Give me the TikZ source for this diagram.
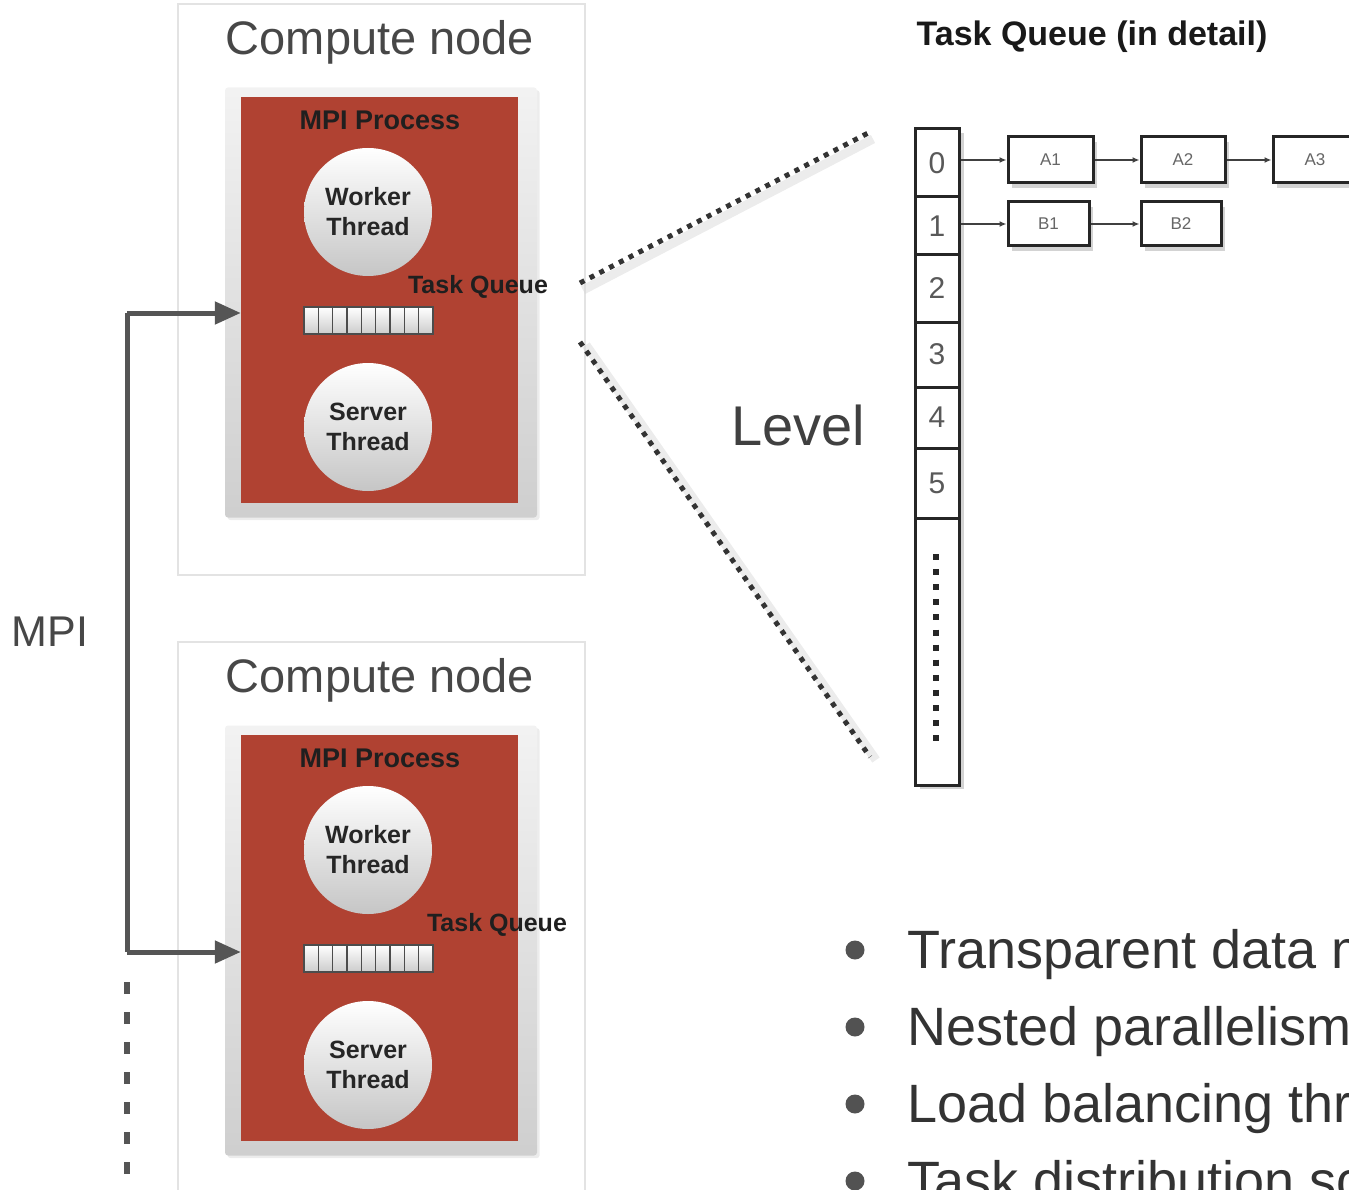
\documentclass[tikz,border=0pt]{standalone}
\usepackage{fontspec}
\setmainfont{Liberation Sans}
\usetikzlibrary{arrows.meta,shadows}

\definecolor{procred}{RGB}{176,66,50}
\definecolor{busgray}{RGB}{85,85,85}
\newcommand{\pxfont}[2]{\fontsize{#1}{#2}\selectfont}

\begin{document}
\begin{tikzpicture}[x=1pt, y=-1pt, >={Triangle[length=26pt,width=22pt]},
  cnode/.style={draw=gray!22, line width=1.5pt, minimum width=407pt, minimum height=571pt, inner sep=0pt},
  cnlabel/.style={text=black!72, font=\pxfont{47}{56}},
  procbg/.style={top color=gray!10, bottom color=gray!38, rounded corners=3pt, minimum width=312pt, minimum height=430pt, inner sep=0pt},
  proc/.style={fill=procred, minimum width=277pt, minimum height=406pt, inner sep=0pt},
  proclabel/.style={font=\bfseries\pxfont{27}{32}, text=black!88},
  thread/.style={circle, minimum size=128pt, inner sep=0pt, top color=white, bottom color=gray!45, align=center, font=\bfseries\pxfont{25}{30}, text=black!85},
  qbar/.style={draw=black!70, line width=1.5pt, top color=white, bottom color=gray!40, minimum width=129pt, minimum height=27pt, inner sep=0pt},
  bus/.style={draw=busgray, line width=5pt},
  zoomline/.style={line width=5pt, dash pattern=on 5pt off 6pt, black!80},
  lvlcell/.style={draw=black!85, line width=3pt, fill=white, minimum width=44pt, inner sep=0pt, font=\pxfont{30}{36}, text=black!65, drop shadow={shadow xshift=5pt, shadow yshift=-4pt, opacity=.35}},
  listbox/.style={draw=black!85, line width=3pt, fill=white, minimum height=46pt, inner sep=0pt, font=\pxfont{17}{20}, text=black!60, drop shadow={shadow xshift=4pt, shadow yshift=-5pt, opacity=.35}},
  link/.style={black!75, line width=1.5pt, -{Latex[length=7pt,width=6pt]}},
  bullet/.style={circle, fill=black!68, minimum size=19pt, inner sep=0pt},
  item/.style={anchor=base west, inner sep=0pt, font=\pxfont{54}{66}, text=black!80}]
\useasboundingbox (0,0) rectangle (1349,1190);
\clip (0,0) rectangle (1349,1190);

% two compute nodes, one MPI process each
\foreach \i/\dy/\tqx in {1/0/478, 2/638/497} {
  \node[cnode] (cn\i) at (381.5,292.5+\dy-3) {};
  \node[cnlabel] (cnt\i) at (380,45+\dy-3) {Compute node};
  \node[procbg, drop shadow={opacity=.15}] (pbg\i) at (381,302.5+\dy) {};
  \node[proc] (proc\i) at (379.5,300+\dy) {};
  \node[proclabel] (pl\i) at (380,120+\dy) {MPI Process};
  \node[thread] (worker\i) at (368,212+\dy) {Worker\\Thread};
  \node[thread] (server\i) at (368,427+\dy) {Server\\Thread};
  \node[qbar] (queue\i) at (368.5,320.5+\dy) {};
  \foreach \k in {1,...,8}
    \draw[black!70, line width=1.5pt] ({304+\k*14.33},307+\dy) -- ++(0,27);
  \node[proclabel, font=\bfseries\pxfont{25}{30}] (tq\i) at (\tqx,287+\dy) {Task Queue};
}

% MPI connection
\coordinate (mpitop) at (127,313);
\coordinate (mpibot) at (127,952);
\coordinate (mpidash) at (127,982);
\coordinate (mpiend) at (127,1190);
\draw[bus] (mpitop) -- (mpibot);
\draw[bus, ->, busgray] (mpitop) -- (mpitop -| proc1.west);
\draw[bus, ->, busgray] (mpibot) -- (mpibot -| proc2.west);
\draw[bus, line width=6pt, dash pattern=on 12pt off 18pt] (mpidash) -- (mpiend);
\node[text=black!72, font=\pxfont{43}{50}] (mpi) at (50,632) {MPI};

% zoom into the task queue
\coordinate (zoomA) at (580,283);
\coordinate (zoomB) at (580,342);
\coordinate (zoomC) at (870,132);
\coordinate (zoomD) at (870,757);
\draw[zoomline, black!15, line width=9pt, solid, opacity=.5] ([shift={(3,7)}]zoomA) -- ([shift={(3,7)}]zoomC);
\draw[zoomline, black!15, line width=9pt, solid, opacity=.5] ([shift={(6,3)}]zoomB) -- ([shift={(6,3)}]zoomD);
\draw[zoomline] (zoomA) -- (zoomC);
\draw[zoomline] (zoomB) -- (zoomD);
\node[text=black!75, font=\pxfont{56}{66}] (level) at (798,425) {Level};

\node[font=\bfseries\pxfont{34}{40}, text=black!90] (tqtitle) at (1092,37) {Task Queue (in detail)};

% level column
\foreach \n/\ya/\yb in {0/129/197, 1/197/255, 2/255/322, 3/322/387, 4/387/448, 5/448/518}
  \node[lvlcell, minimum height={(\yb-\ya)*1pt}] (lvl\n) at (937,{(\ya+\yb)/2}) {\n};
\node[lvlcell, minimum height=267pt] (lvlrest) at (937,651.5) {};
\draw[black!85, line width=6.5pt, dash pattern=on 6pt off 9.1pt] (936,554) -- (936,744);

% task lists
\node[listbox, minimum width=85pt] (a1) at (1050.5,160) {A1};
\node[listbox, minimum width=84pt] (a2) at (1183,160) {A2};
\node[listbox, minimum width=84pt] (a3) at (1315,160) {A3};
\node[listbox, minimum width=81pt, minimum height=44pt] (b1) at (1048.5,224) {B1};
\node[listbox, minimum width=80pt, minimum height=44pt] (b2) at (1181,224) {B2};
\draw[link] (lvl0.east |- a1.west) -- (a1.west);
\draw[link] (a1) -- (a2);
\draw[link] (a2) -- (a3);
\draw[link] (lvl1.east |- b1.west) -- (b1.west);
\draw[link] (b1) -- (b2);

% features
\node[bullet] (bul1) at (855,950) {};
\node[bullet] (bul2) at (855,1027) {};
\node[bullet] (bul3) at (855,1104) {};
\node[bullet] (bul4) at (855,1181) {};
\node[item] (item1) at (907,968) {Transparent data m};
\node[item] (item2) at (907,1045) {Nested parallelism};
\node[item] (item3) at (907,1122) {Load balancing thr};
\node[item] (item4) at (907,1199) {Task distribution sc};
\end{tikzpicture}
\end{document}
